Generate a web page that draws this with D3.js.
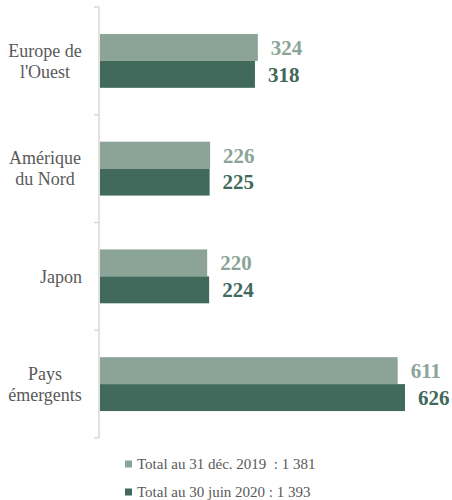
<!DOCTYPE html>
<html>
<head>
<meta charset="utf-8">
<script src="https://cdn.jsdelivr.net/npm/d3@7"></script>
<style>
  body { margin: 0; background: #fff; font-family: "Liberation Serif", serif; }
  svg text, svg tspan { font-family: "Liberation Serif", serif !important; }
</style>
</head>
<body>
<div id="chart" style="font-family:'Liberation Serif', serif"></div>
<script>
const width = 452;
const height = 500;

const categories = [["Europe de", "l'Ouest"], ["Amérique", "du Nord"], ["Japon"], ["Pays", "émergents"]];
const values2019 = [324, 226, 220, 611];
const values2020 = [318, 225, 224, 626];
const seriesNames = ['Total au 31 déc. 2019  : 1 381', 'Total au 30 juin 2020 : 1 393'];
const colors = ['#8ca498', '#41695c'];
const font = 'Liberation Serif';

const svg = d3.select('#chart')
  .append('svg')
  .attr('width', width)
  .attr('height', height)
  .attr('font-family', font)

const keys = categories.map(c => c.join(' '));
const series = [values2019, values2020];

const y = d3.scaleBand()
  .domain(keys)
  .range([7, 438])
  .paddingInner(0.5)
  .paddingOuter(0.25)

const ySub = d3.scaleBand()
  .domain([0, 1])
  .range([0, y.bandwidth()])

const x = d3.scaleLinear()
  .domain([0, 626])
  .range([100, 405])

// bars
series.forEach((vals, s) => {
  svg.append('g')
    .selectAll('rect')
    .data(vals)
    .enter()
    .append('rect')
    .attr('x', x(0))
    .attr('y', (d, i) => y(keys[i]) + ySub(s))
    .attr('width', d => x(d) - x(0))
    .attr('height', ySub.bandwidth())
    .attr('fill', colors[s])

  svg.append('g')
    .selectAll('text')
    .data(vals)
    .enter()
    .append('text')
    .text(d => d)
    .attr('x', d => x(d) + 13)
    .attr('y', (d, i) => y(keys[i]) + ySub(s) + ySub.bandwidth() / 2)
    .attr('dy', '0.35em')
    .attr('fill', colors[s])
    .style('font-family', font, 'important')
    .attr('font-weight', 'bold')
    .attr('font-size', 21)
})

// category axis: line and ticks between groups
const axis = svg.append('g')
axis.append('line')
  .attr('x1', 99).attr('x2', 99)
  .attr('y1', y.range()[0]).attr('y2', y.range()[1])
  .attr('stroke', '#d9d9d9')
  .attr('stroke-width', 1.5)

const tickYs = keys.map(k => y(k) - y.step() * y.paddingOuter()).concat([y.range()[1]]);
axis.selectAll('.tick')
  .data(tickYs)
  .enter()
  .append('line')
  .attr('x1', 94).attr('x2', 99)
  .attr('y1', d => d).attr('y2', d => d)
  .attr('stroke', '#d9d9d9')
  .attr('stroke-width', 1.5)

// category labels
categories.forEach((lines, i) => {
  const cy = y(keys[i]) + y.bandwidth() / 2;
  const multi = lines.length > 1;
  const t = svg.append('text')
    .attr('fill', '#595959')
    .style('font-family', font, 'important')
    .attr('font-size', 18)
    .attr('text-anchor', multi ? 'middle' : 'end')
  lines.forEach((line, j) => {
    t.append('tspan')
      .attr('x', multi ? 45 : 82)
      .attr('y', cy + (j - (lines.length - 1) / 2) * 21)
      .attr('dy', '0.35em')
      .text(line)
  })
})

// legend
const legend = svg.append('g')
seriesNames.forEach((name, i) => {
  const ly = 464 + i * 28;
  legend.append('rect')
    .attr('x', 125).attr('y', ly - 3.5)
    .attr('width', 7).attr('height', 7)
    .attr('fill', colors[i])
  legend.append('text')
    .text(name)
    .attr('x', 137).attr('y', ly)
    .attr('dy', '0.35em')
    .attr('fill', '#595959')
    .style('font-family', font, 'important')
    .attr('font-size', 15)
    .attr('xml:space', 'preserve')
})
</script>
</body>
</html>
